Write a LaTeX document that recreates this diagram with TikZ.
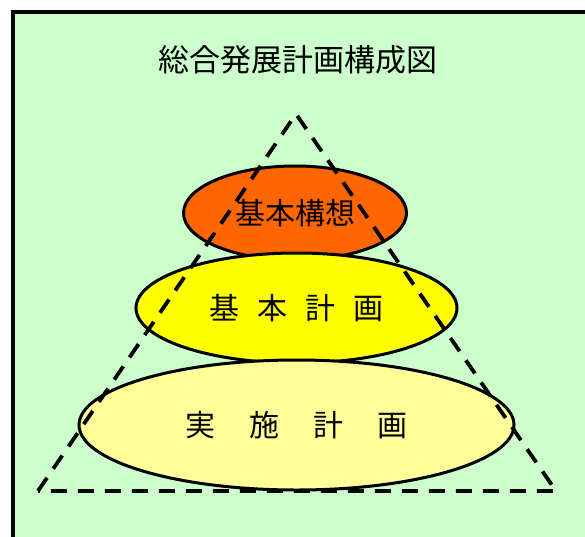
\documentclass[tikz,border=0pt]{standalone}
\usepackage{fontspec}
\setmainfont{Noto Sans CJK JP}
\usetikzlibrary{shapes.geometric}
\definecolor{bggreen}{HTML}{CCFFCC}
\definecolor{orng}{HTML}{FF6600}
\definecolor{yel}{HTML}{FFFF00}
\definecolor{lyel}{HTML}{FFFF99}
\tikzset{
  ell/.style={ellipse, draw=black, line width=3pt, inner sep=0pt, font=\fontsize{30}{33}\selectfont},
  tri/.style={draw=black, line width=3.8pt, dash pattern=on 16pt off 11pt},
}
\begin{document}
\begin{tikzpicture}[x=1pt,y=-1pt]
\useasboundingbox (0,0) rectangle (585,536);
\clip (0,0) rectangle (585,536);
\fill[white] (0,0) rectangle (585,536);
\draw[fill=bggreen, line width=4pt] (13,12) rectangle (610,560);
\node (title) at (298,60) {\fontsize{31}{34}\selectfont 総合発展計画構成図};
\node[ell, fill=orng, minimum width=223pt, minimum height=94pt] (kousou) at (295,213) {基本構想};
\node[ell, fill=yel, minimum width=321pt, minimum height=110pt] (kihon) at (296.5,308) {基\hspace{18pt}本\hspace{18pt}計\hspace{18pt}画};
\node[ell, fill=lyel, minimum width=435pt, minimum height=130pt] (jisshi) at (296.5,425) {実\hspace{34pt}施\hspace{34pt}計\hspace{34pt}画};
\coordinate (apex) at (296,114);
\coordinate (bl) at (38,491);
\coordinate (br) at (556,491);
\draw[tri] (bl) -- (apex) -- (br) -- cycle;
\end{tikzpicture}
\end{document}
